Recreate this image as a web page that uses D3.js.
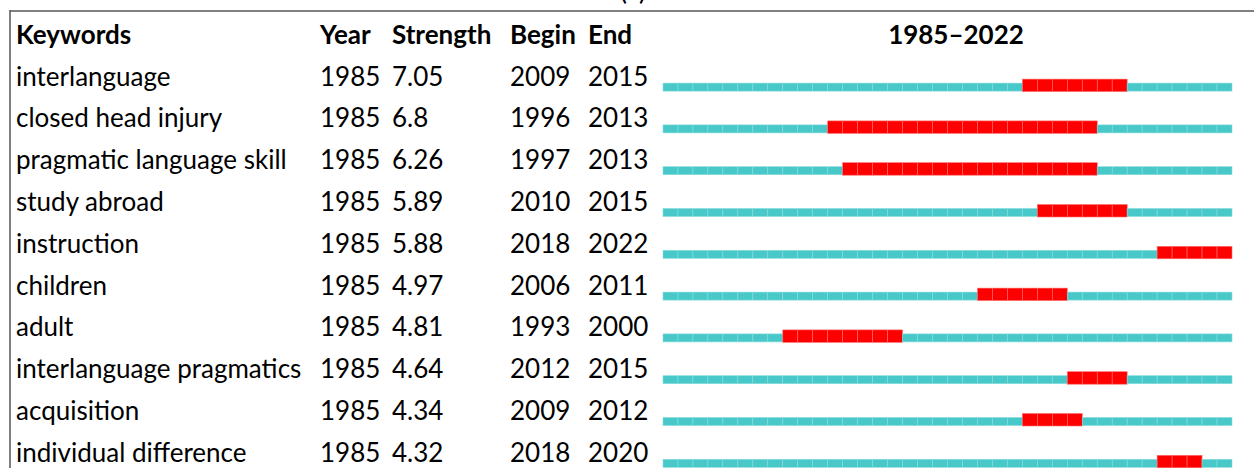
<!DOCTYPE html>
<html>
<head>
<meta charset="utf-8">
<script src="https://cdn.jsdelivr.net/npm/d3@7"></script>
<style>
  body { margin: 0; background: #fff; }
  svg text { font-family: Lato, "Liberation Sans", sans-serif; fill: #000; }
</style>
</head>
<body>
<div id="chart"></div>
<script>
// burst data
const keywords = ["interlanguage", "closed head injury", "pragmatic language skill", "study abroad",
    "instruction", "children", "adult", "interlanguage pragmatics", "acquisition", "individual difference"];
const years = [1985, 1985, 1985, 1985, 1985, 1985, 1985, 1985, 1985, 1985];
const strengths = ["7.05", "6.8", "6.26", "5.89", "5.88", "4.97", "4.81", "4.64", "4.34", "4.32"];
const begins = [2009, 1996, 1997, 2010, 2018, 2006, 1993, 2012, 2009, 2018];
const ends = [2015, 2013, 2013, 2015, 2022, 2011, 2000, 2015, 2012, 2020];
const headers = ["Keywords", "Year", "Strength", "Begin", "End"];
const spanStart = 1985, spanEnd = 2022;

const width = 1255, height = 468;

const svg = d3.select("#chart").append("svg")
    .attr("width", width)
    .attr("height", height);

// caption, mostly cut off at the top (as in the figure)
svg.append("text")
    .attr("x", 633).attr("y", 0)
    .attr("text-anchor", "middle")
    .style("font-size", "26px")
    .text("(a)");

// frame
svg.append("line")
    .attr("x1", 10).attr("x2", 1254).attr("y1", 11).attr("y2", 11)
    .attr("stroke", "#808080").attr("stroke-width", 2);
svg.append("line")
    .attr("x1", 10).attr("x2", 10).attr("y1", 10).attr("y2", height)
    .attr("stroke", "#555").attr("stroke-width", 1.5);

// rows
const y = d3.scaleBand()
    .domain(d3.range(keywords.length))
    .range([63.1, 63.1 + 41.8 * keywords.length]);

// one band per year on the timeline
const allYears = d3.range(spanStart, spanEnd + 1);
const x = d3.scaleBand()
    .domain(allYears)
    .range([663, 1232]);

const colX = [16, 320, 392, 510, 588];

// header
svg.selectAll("text.head")
    .data(headers)
    .join("text")
    .attr("class", "head")
    .attr("x", (d, i) => colX[i])
    .attr("y", 44)
    .style("font-size", "26px")
    .style("font-weight", "bold")
    .text(d => d);

svg.append("text")
    .attr("x", 956).attr("y", 44)
    .attr("text-anchor", "middle")
    .style("font-size", "26px")
    .style("font-weight", "bold")
    .text(spanStart + "–" + spanEnd);

const rows = svg.selectAll("g.row")
    .data(keywords.map((k, i) => ({ k, i, year: years[i], s: strengths[i], b: begins[i], e: ends[i] })))
    .join("g")
    .attr("class", "row")
    .attr("transform", d => "translate(0," + y(d.i) + ")");

const base = 21; // bar bottom sits at base + 7

rows.selectAll("text")
    .data(d => [d.k, d.year, d.s, d.b, d.e])
    .join("text")
    .attr("x", (d, j) => colX[j])
    .attr("y", base + 1.5)
    .style("font-size", "26px")
    .text(d => d);

// timeline cells
rows.selectAll("rect")
    .data(d => allYears.map(yr => ({ yr, on: yr >= d.b && yr <= d.e })))
    .join("rect")
    .attr("x", d => x(d.yr))
    .attr("width", x.bandwidth())
    .attr("y", d => d.on ? base - 5 : base - 1)
    .attr("height", d => d.on ? 12.5 : 8)
    .attr("fill", d => d.on ? "#ff0000" : "#48c8c8")
    .attr("stroke", d => d.on ? "#ff7070" : "#86dcdc")
    .attr("stroke-width", 0.6);
</script>
</body>
</html>
